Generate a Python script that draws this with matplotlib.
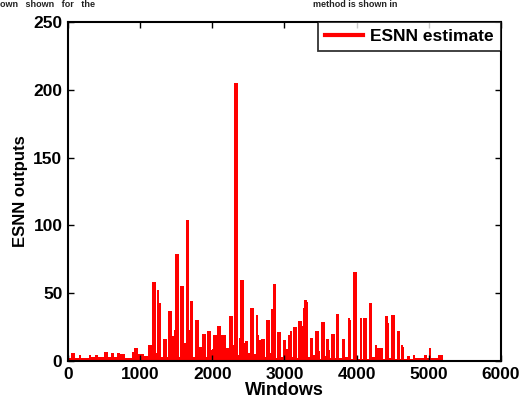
import matplotlib

matplotlib.use("Agg")
import matplotlib.pyplot as plt
import numpy as np
from matplotlib.lines import Line2D

plt.rcParams["font.family"] = ["Liberation Sans", "DejaVu Sans"]
plt.rcParams["font.weight"] = "bold"

# segment edges (window index) and ESNN output value held over each segment
win_edges = [
    0, 40, 97, 148, 180, 290, 318, 378, 415, 498, 554, 600, 632, 683, 715,
    785, 890, 918, 969, 1047, 1110, 1163, 1215, 1237, 1268, 1288, 1311, 1367,
    1385, 1440, 1470, 1482, 1537, 1551, 1607, 1630, 1676, 1690, 1736, 1759,
    1814, 1856, 1911, 1925, 1976, 1995, 2013, 2064, 2114, 2188, 2230, 2285,
    2299, 2355, 2368, 2382, 2438, 2452, 2493, 2521, 2576, 2604, 2632, 2645,
    2673, 2728, 2742, 2798, 2812, 2839, 2881, 2895, 2950, 2978, 3019, 3047,
    3075, 3102, 3116, 3172, 3186, 3241, 3255, 3269, 3306, 3324, 3352, 3393,
    3421, 3476, 3490, 3504, 3559, 3573, 3615, 3629, 3642, 3698, 3712, 3753,
    3767, 3795, 3837, 3878, 3906, 3920, 3947, 4003, 4016, 4044, 4072, 4086,
    4141, 4169, 4211, 4252, 4280, 4321, 4363, 4391, 4432, 4446, 4474, 4529,
    4557, 4598, 4612, 4640, 4654, 4695, 4737, 4778, 4806, 4931, 4972, 5000,
    5028, 5134, 5190,
]
outputs = [
    2.5, 5.9, 2.5, 4.4, 2.5, 4.4, 2.7, 4.4, 2.7, 6.6, 2.7, 5.7, 2.7, 5.9,
    5.0, 2.5, 6.6, 9.6, 5.2, 4.0, 11.8, 58.5, 5.6, 52.4, 42.5, 3.0, 16.0,
    3.0, 37.0, 18.7, 23.0, 79.0, 3.0, 55.0, 13.5, 104.0, 23.0, 44.5, 3.0,
    30.0, 10.6, 19.7, 3.0, 22.4, 8.0, 9.0, 19.0, 25.5, 19.0, 9.3, 33.0, 12.0,
    205.0, 4.4, 16.7, 60.0, 13.5, 14.7, 5.6, 39.0, 5.0, 34.0, 19.0, 15.5,
    16.0, 3.0, 30.0, 5.6, 38.0, 57.0, 2.5, 21.6, 3.0, 15.5, 9.0, 19.0, 22.0,
    3.0, 25.0, 2.0, 29.5, 26.0, 39.0, 45.0, 43.5, 2.7, 16.7, 4.4, 22.0, 7.0,
    1.2, 28.5, 4.0, 16.0, 8.0, 2.0, 20.0, 2.0, 35.0, 2.0, 2.5, 16.5, 2.7,
    31.5, 30.0, 1.5, 65.6, 3.0, 1.5, 31.5, 1.5, 32.0, 1.5, 42.5, 3.0, 11.8,
    9.8, 9.3, 1.5, 33.4, 28.3, 2.5, 34.0, 1.5, 22.0, 1.5, 11.8, 10.6, 1.5,
    3.5, 1.5, 4.4, 2.0, 4.4, 2.0, 9.3, 2.0, 4.4,
]

x_ticks = [0, 1000, 2000, 3000, 4000, 5000, 6000]
y_ticks = [0, 50, 100, 150, 200, 250]

fig = plt.figure(figsize=(5.21, 3.98), dpi=100)
ax = fig.add_axes([0.1305, 0.093, 0.8311, 0.8517])

edges = np.array(win_edges, dtype=float)
ax.bar(edges[:-1], outputs, width=np.diff(edges), align="edge",
       color="#ff0000", linewidth=0)

ax.set_xlim(0, 6000)
ax.set_ylim(0, 250)
ax.set_xticks(x_ticks)
ax.set_yticks(y_ticks)
ax.tick_params(direction="in", top=True, right=True, length=4, width=1,
               labelsize=12.5, pad=4)
for lab in ax.get_xticklabels() + ax.get_yticklabels():
    lab.set_fontweight("bold")
for sp in ax.spines.values():
    sp.set_linewidth(1.5)

ax.set_xlabel("Windows", fontsize=13, fontweight="bold", labelpad=0)
ax.set_ylabel("ESNN outputs", fontsize=12, fontweight="bold", labelpad=4)

proxy = Line2D([], [], color="#ff0000", linewidth=3)
leg = ax.legend(handles=[proxy], labels=["ESNN estimate"], loc="upper right",
                fontsize=12.5, frameon=True, fancybox=False, borderaxespad=0,
                handlelength=2.2, handletextpad=0.4, borderpad=0.4,
                bbox_to_anchor=(1.0, 1.0))
leg.get_frame().set_edgecolor("black")
leg.get_frame().set_linewidth(1.3)
for t in leg.get_texts():
    t.set_fontweight("bold")

# cropped line of page text above the figure
fig.text(0.0, 0.999, "own   shown   for   the", fontsize=6.5, va="top",
         ha="left", color="#222222")
fig.text(0.6, 0.999, "method is shown in", fontsize=6.5, va="top",
         ha="left", color="#222222")

fig.savefig("out.png", dpi=100)
